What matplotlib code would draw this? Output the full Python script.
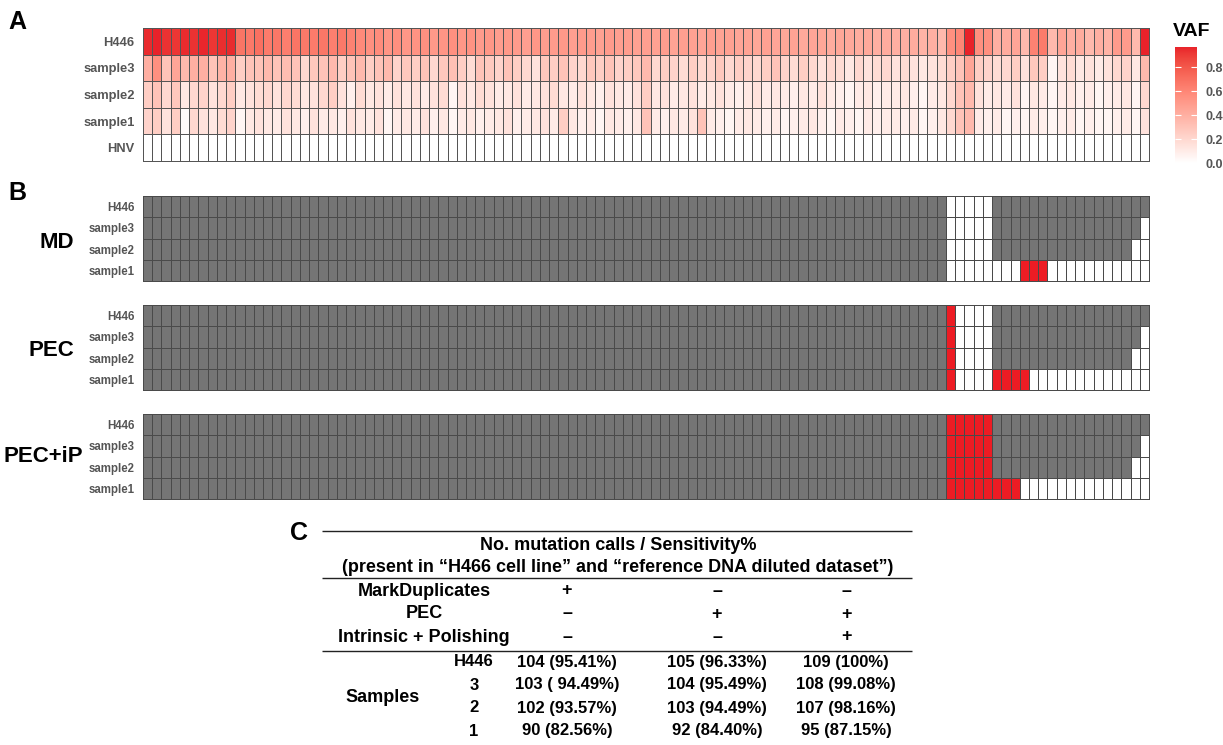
import numpy as np
import matplotlib
matplotlib.use("Agg")
import matplotlib.pyplot as plt
from matplotlib.colors import ListedColormap, BoundaryNorm

plt.rcParams['font.family'] = ['Liberation Sans', 'DejaVu Sans']
plt.rcParams['font.weight'] = 'bold'

# ---------------- data ----------------
samples_A = ['H446', 'sample3', 'sample2', 'sample1', 'HNV']
samples_B = ['H446', 'sample3', 'sample2', 'sample1']
methods = ['MD', 'PEC', 'PEC+iP']

vaf_H446 = ([0.95, 0.97, 0.93, 0.92, 0.95, 0.93, 0.96, 0.92, 0.94, 0.95]
            + [0.68, 0.66, 0.70, 0.65, 0.67, 0.64, 0.68, 0.66, 0.65, 0.67, 0.63, 0.66, 0.62]
            + [0.58, 0.55, 0.57, 0.53, 0.56, 0.52, 0.54, 0.55, 0.51, 0.53, 0.55, 0.52, 0.54]
            + [0.50, 0.52, 0.49, 0.51, 0.50, 0.48, 0.52, 0.49, 0.50, 0.51, 0.48, 0.50, 0.49,
               0.47, 0.50, 0.48, 0.49, 0.47, 0.48]
            + [0.47, 0.49, 0.46, 0.48, 0.47, 0.45, 0.48, 0.46, 0.47, 0.45, 0.46, 0.44, 0.47,
               0.45, 0.44, 0.46, 0.43, 0.45, 0.44, 0.42, 0.44, 0.43, 0.41, 0.43, 0.40, 0.42]
            + [0.40, 0.40, 0.42, 0.38, 0.40, 0.35, 0.55, 0.60, 0.97, 0.55, 0.55, 0.40, 0.42,
               0.45, 0.35, 0.62, 0.65, 0.35, 0.45, 0.40, 0.42, 0.35, 0.40, 0.38, 0.50, 0.50,
               0.35, 0.97])
vaf_sample3 = ([0.40, 0.55, 0.30, 0.45, 0.35, 0.40, 0.40, 0.30, 0.38, 0.40, 0.25, 0.30, 0.30,
                0.35, 0.30, 0.33, 0.30, 0.20, 0.28, 0.30, 0.35, 0.25, 0.30, 0.35, 0.25, 0.30, 0.35]
               + [0.22, 0.28, 0.25, 0.30, 0.20, 0.28, 0.32, 0.25, 0.18, 0.30, 0.27, 0.22, 0.30,
                  0.25, 0.20, 0.15, 0.28, 0.25, 0.30, 0.22, 0.20, 0.28, 0.25, 0.30, 0.22, 0.25,
                  0.28, 0.35]
               + [0.20, 0.25, 0.22, 0.18, 0.25, 0.20, 0.22, 0.28, 0.20, 0.25, 0.22, 0.20, 0.25,
                  0.30, 0.22, 0.18, 0.25, 0.20, 0.15, 0.20, 0.18, 0.12, 0.20, 0.15, 0.18, 0.20]
               + [0.15, 0.18, 0.15, 0.12, 0.15, 0.18, 0.25, 0.30, 0.45, 0.25, 0.22, 0.18, 0.20,
                  0.25, 0.15, 0.28, 0.25, 0.05, 0.15, 0.18, 0.12, 0.15, 0.10, 0.15, 0.20, 0.22,
                  0.12, 0.35])
vaf_sample2 = ([0.25, 0.30, 0.20, 0.28, 0.12, 0.20, 0.22, 0.15, 0.20, 0.25, 0.12, 0.15, 0.18,
                0.20, 0.15, 0.20, 0.18, 0.12, 0.15, 0.20, 0.25, 0.15, 0.08, 0.18, 0.12, 0.15,
                0.10, 0.15]
               + [0.12, 0.15, 0.10, 0.15, 0.18, 0.05, 0.15, 0.12, 0.18, 0.15, 0.10, 0.12, 0.15,
                  0.10, 0.12, 0.15, 0.18, 0.12, 0.10, 0.15, 0.12, 0.08, 0.15, 0.12, 0.10, 0.15, 0.25]
               + [0.12, 0.15, 0.10, 0.12, 0.15, 0.10, 0.12, 0.15, 0.10, 0.08, 0.12, 0.15, 0.10,
                  0.12, 0.10, 0.08, 0.12, 0.10, 0.15, 0.10, 0.08, 0.05, 0.10, 0.12, 0.08, 0.10]
               + [0.10, 0.12, 0.08, 0.05, 0.10, 0.12, 0.20, 0.30, 0.35, 0.15, 0.10, 0.12, 0.10,
                  0.15, 0.05, 0.12, 0.10, 0.05, 0.10, 0.12, 0.08, 0.10, 0.05, 0.08, 0.10, 0.12,
                  0.05, 0.20])
vaf_sample1 = ([0.22, 0.25, 0.15, 0.25, 0.02, 0.20, 0.15, 0.12, 0.18, 0.22, 0.05, 0.12, 0.15,
                0.12, 0.10, 0.15, 0.12, 0.08, 0.15, 0.10, 0.12, 0.08, 0.15, 0.12, 0.10, 0.15,
                0.05, 0.10]
               + [0.12, 0.10, 0.15, 0.08, 0.12, 0.05, 0.10, 0.12, 0.08, 0.10, 0.12, 0.15, 0.08,
                  0.10, 0.12, 0.15, 0.10, 0.25, 0.12, 0.08, 0.10, 0.05, 0.12, 0.10, 0.08, 0.12, 0.30]
               + [0.10, 0.08, 0.12, 0.10, 0.15, 0.30, 0.10, 0.08, 0.05, 0.10, 0.12, 0.10, 0.08,
                  0.10, 0.05, 0.08, 0.10, 0.12, 0.08, 0.05, 0.10, 0.08, 0.05, 0.10, 0.08, 0.10]
               + [0.10, 0.08, 0.10, 0.05, 0.08, 0.12, 0.20, 0.30, 0.35, 0.10, 0.08, 0.10, 0.05,
                  0.08, 0.05, 0.10, 0.08, 0.05, 0.08, 0.10, 0.05, 0.08, 0.05, 0.05, 0.08, 0.10,
                  0.05, 0.15])
vaf_HNV = [0.0] * 109

# detection status: G = detected, W = not detected, R = newly recovered
status_MD = ['G' * 87 + 'W' * 5 + 'G' * 17,
             'G' * 87 + 'W' * 5 + 'G' * 16 + 'W',
             'G' * 87 + 'W' * 5 + 'G' * 15 + 'WW',
             'G' * 87 + 'W' * 8 + 'R' * 3 + 'W' * 11]
status_PEC = ['G' * 87 + 'R' + 'W' * 4 + 'G' * 17,
              'G' * 87 + 'R' + 'W' * 4 + 'G' * 16 + 'W',
              'G' * 87 + 'R' + 'W' * 4 + 'G' * 15 + 'WW',
              'G' * 87 + 'R' + 'W' * 4 + 'R' * 4 + 'W' * 13]
status_PECiP = ['G' * 87 + 'R' * 5 + 'G' * 17,
                'G' * 87 + 'R' * 5 + 'G' * 16 + 'W',
                'G' * 87 + 'R' * 5 + 'G' * 15 + 'WW',
                'G' * 87 + 'R' * 8 + 'W' * 14]

# table C
table_conditions = ['MarkDuplicates', 'PEC', 'Intrinsic + Polishing']
table_flags = [['+', '–', '–'], ['–', '+', '+'], ['–', '–', '+']]
table_rows = ['H446', '3', '2', '1']
table_calls = [[104, 105, 109], [103, 104, 108], [102, 103, 107], [90, 92, 95]]
table_sens = [['95.41%', '96.33%', '100%'],
              [' 94.49%', '95.49%', '99.08%'],
              ['93.57%', '94.49%', '98.16%'],
              ['82.56%', '84.40%', '87.15%']]

# ---------------- helpers ----------------
def _to_lab(rgb):
    c = np.array(rgb, dtype=float)
    c = np.where(c <= 0.04045, c / 12.92, ((c + 0.055) / 1.055) ** 2.4)
    M = np.array([[0.4124, 0.3576, 0.1805], [0.2126, 0.7152, 0.0722], [0.0193, 0.1192, 0.9505]])
    xyz = M @ c / np.array([0.95047, 1.0, 1.08883])
    d = 6 / 29
    f = np.where(xyz > d ** 3, np.cbrt(xyz), xyz / (3 * d * d) + 4 / 29)
    return np.array([116 * f[1] - 16, 500 * (f[0] - f[1]), 200 * (f[1] - f[2])])

def _from_lab(lab):
    L, a, b = lab
    fy = (L + 16) / 116
    fx = fy + a / 500
    fz = fy - b / 200
    d = 6 / 29
    f = np.array([fx, fy, fz])
    xyz = np.where(f > d, f ** 3, 3 * d * d * (f - 4 / 29)) * np.array([0.95047, 1.0, 1.08883])
    Minv = np.linalg.inv(np.array([[0.4124, 0.3576, 0.1805], [0.2126, 0.7152, 0.0722],
                                   [0.0193, 0.1192, 0.9505]]))
    c = Minv @ xyz
    c = np.where(c <= 0.0031308, 12.92 * c, 1.055 * np.abs(c) ** (1 / 2.4) - 0.055)
    return np.clip(c, 0, 1)

lo = _to_lab((1, 1, 1))
hi = _to_lab(matplotlib.colors.to_rgb('#E8222A'))
cmap_vaf = ListedColormap([_from_lab(lo + (hi - lo) * t) for t in np.linspace(0, 1, 256)])

W, H = 1223, 745
fig = plt.figure(figsize=(W / 100, H / 100), dpi=100)

def box(x0, y0, x1, y1):
    return [x0 / W, 1 - y1 / H, (x1 - x0) / W, (y1 - y0) / H]

LABEL_C = '#555555'

# ---------------- panel A ----------------
vaf = np.array([vaf_H446, vaf_sample3, vaf_sample2, vaf_sample1, vaf_HNV])
vmax = vaf.max()
axA = fig.add_axes(box(143, 28, 1149, 161))
mesh = axA.pcolormesh(vaf, cmap=cmap_vaf, vmin=0, vmax=vmax,
                      edgecolors='#555555', linewidth=0.6)
mesh.set_clip_on(False)
axA.set_xlim(0, vaf.shape[1])
axA.set_ylim(vaf.shape[0], 0)
axA.set_xticks([])
axA.set_yticks(np.arange(len(samples_A)) + 0.5)
axA.set_yticklabels(samples_A, fontsize=9.3, color=LABEL_C, fontweight='bold')
axA.tick_params(axis='y', length=0, pad=6)
for s in axA.spines.values():
    s.set_visible(False)

cax = fig.add_axes(box(1175, 47, 1197, 163))
cb = fig.colorbar(mesh, cax=cax, ticks=[0, 0.2, 0.4, 0.6, 0.8])
cb.outline.set_visible(False)
cax.set_yticklabels(['0.0', '0.2', '0.4', '0.6', '0.8'], fontsize=9, color=LABEL_C,
                    fontweight='bold')
cax.tick_params(axis='y', left=True, right=True, direction='in', color='white',
                length=4, width=0.8, pad=6)
fig.text(1173 / W, 1 - 32 / H, 'VAF', fontsize=14, fontweight='bold', va='center', ha='left')

# ---------------- panel B ----------------
code = {'W': 0, 'G': 1, 'R': 2}
cmap_B = ListedColormap(['#FFFFFF', '#757575', '#ED1C24'])
norm_B = BoundaryNorm([-0.5, 0.5, 1.5, 2.5], 3)
b_boxes = [(196, 281), (305, 390), (414, 499)]
b_label_y = [243, 350, 457]
b_label_x = [74, 74, 83]
for statuses, name, (y0, y1), ly, lx in zip([status_MD, status_PEC, status_PECiP], methods,
                                            b_boxes, b_label_y, b_label_x):
    mat = np.array([[code[c] for c in row] for row in statuses])
    ax = fig.add_axes(box(143, y0, 1149, y1))
    m = ax.pcolormesh(mat, cmap=cmap_B, norm=norm_B, edgecolors='#4a4a4a', linewidth=0.55)
    m.set_clip_on(False)
    ax.set_xlim(0, mat.shape[1])
    ax.set_ylim(mat.shape[0], 0)
    ax.set_xticks([])
    ax.set_yticks(np.arange(len(samples_B)) + 0.5)
    ax.set_yticklabels(samples_B, fontsize=8.3, color=LABEL_C, fontweight='bold')
    ax.tick_params(axis='y', length=0, pad=6)
    for s in ax.spines.values():
        s.set_visible(False)
    fig.text(lx / W, 1 - ly / H, name, fontsize=16, fontweight='bold', ha='right', va='center')

# ---------------- panel letters ----------------
fig.text(8 / W, 1 - 22 / H, 'A', fontsize=18, fontweight='bold', va='center')
fig.text(8 / W, 1 - 193 / H, 'B', fontsize=18, fontweight='bold', va='center')
fig.text(290 / W, 1 - 533 / H, 'C', fontsize=18, fontweight='bold', va='center')

# ---------------- panel C (table) ----------------
ov = fig.add_axes([0, 0, 1, 1])
ov.set_xlim(0, W)
ov.set_ylim(H, 0)
ov.axis('off')
fs_t = 13
fs_d = 12
for yl in (531, 578, 651):
    ov.plot([322, 912], [yl, yl], color='#222222', lw=1.0, solid_capstyle='butt')
ov.text(618, 546, 'No. mutation calls / Sensitivity%', fontsize=fs_t, ha='center', va='center',
        fontweight='bold')
ov.text(618, 567, '(present in “H466 cell line” and “reference DNA diluted dataset”)',
        fontsize=fs_t, ha='center', va='center', fontweight='bold')
col_x = [567, 717, 846]
cond_y = [591, 614, 637]
for cond, flags, y in zip(table_conditions, table_flags, cond_y):
    ov.text(424, y, cond, fontsize=fs_t, ha='center', va='center', fontweight='bold')
    for f, x in zip(flags, col_x):
        ov.text(x, y, f, fontsize=fs_t, ha='center', va='center', fontweight='bold')
row_y = [662, 685, 708, 731]
for lab, calls, sens, y in zip(table_rows, table_calls, table_sens, row_y):
    ov.text(474, y, lab, fontsize=fs_d, ha='center', va='center', fontweight='bold')
    for c, s, x in zip(calls, sens, col_x):
        ov.text(x, y, f'{c} ({s})', fontsize=fs_d, ha='center', va='center', fontweight='bold')
ov.text(383, 697, 'Samples', fontsize=fs_t, ha='center', va='center', fontweight='bold')

fig.savefig('out.png', dpi=100, facecolor='white')
